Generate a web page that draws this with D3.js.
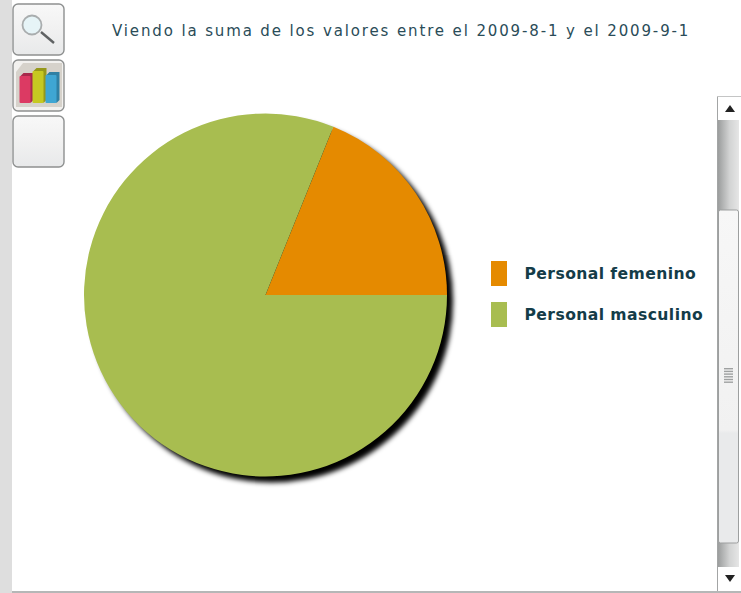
<!DOCTYPE html>
<html><head><meta charset="utf-8">
<style>html,body{margin:0;padding:0;background:#fff;overflow:hidden}svg{display:block}</style>
<script src="https://cdn.jsdelivr.net/npm/d3@7"></script></head>
<body><div id="c"></div>
<script>
const categories = ["Personal femenino", "Personal masculino"];
const values = [18.9, 81.1];
const colours = ["#e58a00", "#a8bd50"];
const titleText = "Viendo la suma de los valores entre el 2009-8-1 y el 2009-9-1";
const bookColours = ["#dc3a63", "#c6c921", "#3fa6d3"];
const bookSideColours = ["#a82a4c", "#96981a", "#2f80a4"];

const svg = d3.select("#c").append("svg").attr("width", 741).attr("height", 593);
const defs = svg.append("defs");
const f = defs.append("filter").attr("id","shadow").attr("x","-10%").attr("y","-10%").attr("width","125%").attr("height","125%");
f.append("feGaussianBlur").attr("stdDeviation",2.4);
const g1 = defs.append("linearGradient").attr("id","btn").attr("x1",0).attr("x2",0).attr("y1",0).attr("y2",1);
g1.append("stop").attr("offset","0").attr("stop-color","#f8f8f8");
g1.append("stop").attr("offset","0.5").attr("stop-color","#f1f1f1");
g1.append("stop").attr("offset","1").attr("stop-color","#e8e9ea");
const g2 = defs.append("linearGradient").attr("id","track");
g2.append("stop").attr("offset","0").attr("stop-color","#9b9d9d");
g2.append("stop").attr("offset","0.55").attr("stop-color","#d2d3d3");
g2.append("stop").attr("offset","1").attr("stop-color","#e6e6e6");
const g3 = defs.append("linearGradient").attr("id","thumb").attr("x1",0).attr("x2",0).attr("y1",0).attr("y2",1);
g3.append("stop").attr("offset","0").attr("stop-color","#f7f7f7");
g3.append("stop").attr("offset","0.66").attr("stop-color","#f1f1f1");
g3.append("stop").attr("offset","0.67").attr("stop-color","#e9eaeb");
g3.append("stop").attr("offset","1").attr("stop-color","#e9eaeb");

// page chrome
svg.append("rect").attr("x",0).attr("y",0).attr("width",12).attr("height",593).attr("fill","#dedede");
svg.append("rect").attr("x",12).attr("y",591).attr("width",729).attr("height",2).attr("fill","#b5b7b7");

// toolbar buttons
[4,60,116].forEach((y,i)=>{
  svg.append("rect").attr("x",13).attr("y",y).attr("width",51).attr("height",51).attr("rx",5)
    .attr("fill", i===1 ? "#f2f1ef" : "url(#btn)").attr("stroke","#8e9090").attr("stroke-width",1.4);
});
// magnifier icon
const mag = svg.append("g");
mag.append("line").attr("x1",41).attr("y1",32).attr("x2",54).attr("y2",43).attr("stroke","#5f6263").attr("stroke-width",2.4);
mag.append("circle").attr("cx",32).attr("cy",25).attr("r",9.5).attr("fill","#e6f4f7").attr("stroke","#a9adae").attr("stroke-width",1.8);
// book icon
svg.append("path").attr("d","M16,72 L23,63 L62,63 L62,107 L16,107 Z").attr("fill","#d6d2cb");
const bookX = [19.5,32.5,45.5], bookY=[76,71,75], bookH=[27,32,28];
bookColours.forEach((c,i)=>{
  const w=11;
  svg.append("path").attr("d",`M${bookX[i]+1},${bookY[i]} l3,-3 h${w-1} v${bookH[i]} l-3,3 z`).attr("fill",bookSideColours[i]);
  svg.append("rect").attr("x",bookX[i]).attr("y",bookY[i]).attr("width",w).attr("height",bookH[i]).attr("rx",1).attr("fill",c);
});

// title
svg.append("text").attr("x",112).attr("y",36).attr("font-family","'DejaVu Sans'").attr("font-size",15)
  .attr("letter-spacing",1.87).attr("fill","#2a4c58").text(titleText);

// pie
const radius = 181.5;
const pie = d3.pie().sort(null).startAngle(Math.PI/2).endAngle(Math.PI/2 - 2*Math.PI);
const arc = d3.arc().innerRadius(0).outerRadius(radius);
const chart = svg.append("g").attr("transform","translate(265.5,295)");
chart.append("circle").attr("cx",6).attr("cy",6).attr("r",radius).attr("fill","#000").attr("filter","url(#shadow)");
chart.selectAll("path.s").data(pie(values)).join("path").attr("class","s").attr("d",arc).attr("fill",(d,i)=>colours[i]);

// legend
const legendY = d3.scalePoint().domain(categories).range([273.5,314.5]);
categories.forEach((c,i)=>{
  svg.append("rect").attr("x",491).attr("y",legendY(c)-12.5).attr("width",16).attr("height",25).attr("fill",colours[i]);
  svg.append("text").attr("x",524.5).attr("y",legendY(c)+5).attr("font-family","'DejaVu Sans'").attr("font-weight","bold")
    .attr("font-size",15.6).attr("letter-spacing",0.42).attr("fill","#143c48").text(c);
});

// scrollbar
svg.append("rect").attr("x",717).attr("y",97).attr("width",24).attr("height",494).attr("fill","#fff");
svg.append("rect").attr("x",718).attr("y",120).attr("width",21).attr("height",448).attr("fill","url(#track)");
svg.append("line").attr("x1",717.5).attr("x2",717.5).attr("y1",96).attr("y2",591).attr("stroke","#a3a5a5");
svg.append("line").attr("x1",717).attr("x2",741).attr("y1",96.5).attr("y2",96.5).attr("stroke","#c4c5c5");
svg.append("rect").attr("x",718.5).attr("y",210).attr("width",20).attr("height",333).attr("rx",2).attr("fill","url(#thumb)").attr("stroke","#9d9f9f");
d3.range(6).forEach(i=>svg.append("rect").attr("x",724).attr("y",368+i*2.7).attr("width",9).attr("height",1.4).attr("fill","#9fa1a1"));
svg.append("rect").attr("x",718).attr("y",567).attr("width",23).attr("height",24).attr("fill","#fff");
svg.append("path").attr("d",d3.line()([[725,112],[730,105],[735,112]])+"Z").attr("fill","#222");
svg.append("path").attr("d",d3.line()([[725,575],[735,575],[730,582]])+"Z").attr("fill","#222");
</script></body></html>
